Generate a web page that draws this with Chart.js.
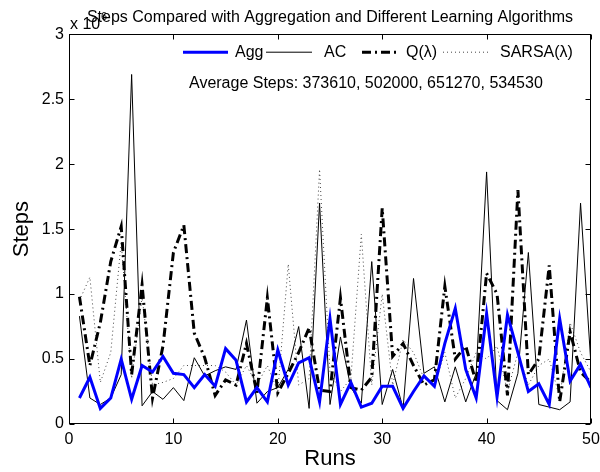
<!DOCTYPE html>
<html>
<head>
<meta charset="utf-8">
<script src="https://cdn.jsdelivr.net/npm/chart.js@4.4.1/dist/chart.umd.min.js"></script>
<style>
  html, body { margin: 0; padding: 0; background: #fff; }
</style>
</head>
<body>
<canvas id="chart" width="600" height="472"></canvas>
<script>
// steps per run, in units of 10^6
const runs = [1, 2, 3, 4, 5, 6, 7, 8, 9, 10, 11, 12, 13, 14, 15, 16, 17, 18, 19, 20,
  21, 22, 23, 24, 25, 26, 27, 28, 29, 30, 31, 32, 33, 34, 35, 36, 37, 38, 39, 40,
  41, 42, 43, 44, 45, 46, 47, 48, 49, 50];
const aggSteps = [0.20, 0.36, 0.12, 0.20, 0.50, 0.19, 0.45, 0.40, 0.52, 0.39,
  0.38, 0.28, 0.38, 0.29, 0.58, 0.49, 0.17, 0.28, 0.17, 0.57,
  0.30, 0.47, 0.51, 0.17, 0.81, 0.15, 0.32, 0.13, 0.16, 0.29,
  0.29, 0.12, 0.25, 0.37, 0.29, 0.62, 0.89, 0.42, 0.20, 0.85,
  0.21, 0.84, 0.55, 0.25, 0.31, 0.15, 0.81, 0.33, 0.46, 0.28];
const acSteps = [0.83, 0.20, 0.15, 0.20, 0.38, 2.69, 0.14, 0.25, 0.19, 0.28,
  0.18, 0.51, 0.37, 0.41, 0.44, 0.42, 0.80, 0.16, 0.25, 0.28,
  0.42, 0.75, 0.12, 1.70, 0.15, 0.67, 0.28, 0.16, 1.25, 0.15,
  0.42, 0.12, 1.12, 0.39, 0.44, 0.17, 0.44, 0.17, 0.39, 1.94,
  0.18, 0.11, 0.39, 1.32, 0.15, 0.13, 0.11, 0.17, 1.70, 0.45];
const qSteps = [0.98, 0.45, 0.78, 1.25, 1.52, 0.38, 1.07, 0.20, 0.60, 1.32,
  1.53, 0.70, 0.51, 0.22, 0.34, 0.30, 0.62, 0.24, 0.97, 0.24,
  0.39, 0.55, 0.74, 0.26, 0.25, 0.97, 0.28, 0.26, 0.36, 1.66,
  0.52, 0.62, 0.45, 0.30, 0.34, 1.06, 0.50, 0.60, 0.32, 1.16,
  1.00, 0.22, 1.80, 0.38, 0.50, 1.22, 0.17, 0.71, 0.40, 0.32];
const sarsaSteps = [0.95, 1.13, 0.32, 0.55, 1.40, 0.35, 0.98, 0.30, 0.32, 0.35,
  0.45, 0.45, 0.45, 0.45, 0.40, 0.30, 0.45, 0.30, 0.45, 0.25,
  1.23, 0.30, 0.35, 1.96, 0.40, 0.25, 0.35, 1.46, 0.30, 1.00,
  0.30, 0.65, 0.55, 0.35, 0.30, 0.55, 0.20, 0.35, 0.55, 0.50,
  0.60, 0.25, 0.55, 0.30, 0.45, 0.50, 0.20, 0.78, 0.55, 0.40];
const seriesNames = ['Agg', 'AC', 'Q(\u03bb)', 'SARSA(\u03bb)'];
const averageSteps = [373610, 502000, 651270, 534530];
const xTicks = [0, 10, 20, 30, 40, 50];
const yTicks = [0, 0.5, 1, 1.5, 2, 2.5, 3];

const FONT = '"Liberation Sans", Arial, Helvetica, sans-serif';
Chart.defaults.font.family = FONT;
Chart.defaults.color = '#000';

const toPoints = vals => vals.map((v, i) => ({ x: runs[i], y: v }));

// MATLAB style box, inward ticks, legend and annotation text
const matlabFrame = {
  id: 'matlabFrame',
  afterDraw(chart) {
    const { ctx, chartArea: a, scales } = chart;
    const L = Math.round(a.left) + 0.5, R = Math.round(a.right) - 0.5;
    const T = Math.round(a.top) + 0.5, B = Math.round(a.bottom) - 0.5;
    const tl = 5;
    ctx.save();
    ctx.strokeStyle = '#000';
    ctx.lineWidth = 1;
    ctx.setLineDash([]);
    ctx.strokeRect(L, T, R - L, B - T);
    ctx.beginPath();
    xTicks.forEach(v => {
      const px = Math.round(scales.x.getPixelForValue(v)) + 0.5;
      ctx.moveTo(px, B); ctx.lineTo(px, B - tl);
      ctx.moveTo(px, T); ctx.lineTo(px, T + tl);
    });
    yTicks.forEach(v => {
      const py = Math.round(scales.y.getPixelForValue(v)) + 0.5;
      ctx.moveTo(L, py); ctx.lineTo(L + tl, py);
      ctx.moveTo(R, py); ctx.lineTo(R - tl, py);
    });
    ctx.stroke();

    // exponent label
    ctx.fillStyle = '#000';
    ctx.textBaseline = 'alphabetic';
    ctx.textAlign = 'left';
    ctx.font = '16px ' + FONT;
    ctx.fillText('x 10', a.left + 1, 29);
    ctx.font = '11px ' + FONT;
    ctx.fillText('6', a.left + 32, 20);

    // legend
    const ly = a.top + 18;
    const items = [[114, 159, 166], [197, 243, 255], [293, 331, 337], [374, 419, 431]];
    chart.data.datasets.forEach((ds, i) => {
      const [x0, x1, tx] = items[i];
      ctx.beginPath();
      ctx.strokeStyle = ds.borderColor;
      ctx.lineWidth = ds.borderWidth;
      ctx.setLineDash(ds.borderDash || []);
      ctx.moveTo(a.left + x0, ly);
      ctx.lineTo(a.left + x1, ly);
      ctx.stroke();
      ctx.setLineDash([]);
      ctx.font = '16px ' + FONT;
      ctx.textBaseline = 'middle';
      ctx.fillStyle = '#000';
      ctx.fillText(ds.label, a.left + tx, ly);
    });

    ctx.font = '16px ' + FONT;
    ctx.textBaseline = 'middle';
    ctx.fillText('Average Steps: ' + averageSteps.join(', '), a.left + 120, a.top + 49);
    ctx.restore();
  }
};

new Chart(document.getElementById('chart'), {
  type: 'line',
  data: {
    datasets: [
      { label: seriesNames[0], data: toPoints(aggSteps), borderColor: '#0000ff', borderWidth: 3 },
      { label: seriesNames[1], data: toPoints(acSteps), borderColor: '#000', borderWidth: 1 },
      { label: seriesNames[2], data: toPoints(qSteps), borderColor: '#000', borderWidth: 3, borderDash: [9, 4, 2, 4] },
      { label: seriesNames[3], data: toPoints(sarsaSteps), borderColor: '#444', borderWidth: 1, borderDash: [1, 3] }
    ]
  },
  options: {
    responsive: false,
    animation: false,
    elements: { point: { radius: 0 }, line: { tension: 0, borderJoinStyle: 'miter' } },
    layout: { padding: { right: 0 } },
    plugins: {
      legend: { display: false },
      tooltip: { enabled: false },
      title: {
        display: true,
        text: 'Steps Compared with Aggregation and Different Learning Algorithms',
        fullSize: false,
        color: '#000',
        font: { size: 16, weight: 'normal' },
        padding: { top: 8, bottom: 7 }
      }
    },
    scales: {
      x: {
        type: 'linear',
        min: 0, max: 50,
        afterFit: s => { s.height = 48; s.paddingRight = 9; },
        afterBuildTicks: s => { s.ticks = xTicks.map(v => ({ value: v })); },
        grid: { display: false, drawTicks: false },
        border: { display: false },
        ticks: { font: { size: 16 }, padding: 6, maxRotation: 0 },
        title: { display: true, text: 'Runs', font: { size: 22 }, padding: { top: 0, bottom: 0 } }
      },
      y: {
        type: 'linear',
        min: 0, max: 3,
        afterFit: s => { s.width = 69; },
        afterBuildTicks: s => { s.ticks = yTicks.map(v => ({ value: v })); },
        grid: { display: false, drawTicks: false },
        border: { display: false },
        ticks: { font: { size: 16 }, padding: 5, callback: v => String(v) },
        title: { display: true, text: 'Steps', font: { size: 22 }, padding: { top: 9, bottom: 0 } }
      }
    }
  },
  plugins: [matlabFrame]
});
</script>
</body>
</html>
